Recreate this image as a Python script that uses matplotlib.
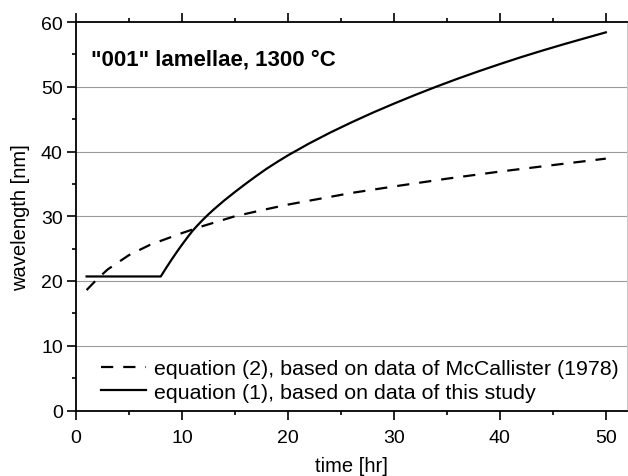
import matplotlib
matplotlib.use("Agg")
import matplotlib.pyplot as plt
from matplotlib.ticker import MultipleLocator

plt.rcParams["font.family"] = ["Liberation Sans", "DejaVu Sans"]

# =========================
# Data
# =========================
t_eq2 = [1, 2, 3, 5, 7, 10, 12, 15, 18, 20, 23, 26, 30, 35, 40, 45, 50]
wl_eq2 = [18.6, 20.3, 21.8, 24.0, 25.6, 27.4, 28.5, 30.0, 31.1, 31.8,
          32.7, 33.6, 34.6, 35.8, 36.9, 37.9, 38.9]

t_eq1 = [1, 8, 8.5, 9, 9.5, 10, 10.5, 11, 11.5, 12, 12.5, 13, 14, 15, 16, 17,
         18, 19, 20, 22, 24, 26, 28, 30, 32, 34, 36, 38, 40, 42, 44, 46, 48, 50]
wl_eq1 = [20.7, 20.7, 22.0, 23.25, 24.45, 25.6, 26.7, 27.75, 28.65, 29.5, 30.3,
          31.05, 32.45, 33.75, 35.0, 36.2, 37.35, 38.4, 39.4, 41.24, 42.93,
          44.5, 45.99, 47.39, 48.73, 50.01, 51.23, 52.39, 53.5, 54.57, 55.58,
          56.55, 57.48, 58.4]

label_eq2 = "equation (2), based on data of McCallister (1978)"
label_eq1 = "equation (1), based on data of this study"
title_text = '"001" lamellae, 1300 °C'

# =========================
# Plot
# =========================
fig = plt.figure(figsize=(6.28, 4.77), dpi=100)
ax = fig.add_axes([76 / 628, 1 - 411.5 / 477, 551 / 628, (411.5 - 23) / 477])

for y in [10, 20, 30, 40, 50]:
    ax.axhline(y, color="#9a9a9a", lw=0.8, zorder=1)

ax.plot(t_eq2, wl_eq2, color="black", lw=1.6, dashes=(5.5, 4.5), label=label_eq2, zorder=3)
ax.plot(t_eq1, wl_eq1, color="black", lw=1.6, label=label_eq1, zorder=3)

ax.set_xlim(0, 52)
ax.set_ylim(0, 60)
ax.xaxis.set_major_locator(MultipleLocator(10))
ax.xaxis.set_minor_locator(MultipleLocator(5))
ax.yaxis.set_major_locator(MultipleLocator(10))
ax.yaxis.set_minor_locator(MultipleLocator(5))
ax.tick_params(which="both", direction="out", top=True, right=False,
               width=1.2, labelsize=14, colors="black")
ax.tick_params(which="major", length=6.5)
ax.tick_params(which="minor", length=3)
ax.tick_params(axis="x", which="major", pad=7)
ax.tick_params(axis="y", which="major", pad=3)
ax.tick_params(axis="x", which="both", labeltop=False)

for side in ["left", "bottom", "top"]:
    ax.spines[side].set_linewidth(1.3)
ax.spines["right"].set_linewidth(0.6)
ax.spines["right"].set_color("#bbbbbb")

ax.set_xlabel("time [hr]", fontsize=14.5, labelpad=7)
ax.set_ylabel("wavelength [nm]", fontsize=14.5, labelpad=8)

ax.text(1.4, 53.5, title_text, fontsize=16, fontweight="bold", va="baseline", ha="left")

ax.legend(loc="lower left", frameon=False, fontsize=15.4, handlelength=2.1,
          handletextpad=0.4, borderaxespad=0.0, labelspacing=0.22,
          borderpad=0.0, bbox_to_anchor=(0.045, 0.022))

fig.savefig("out.png", dpi=100)
plt.close(fig)
